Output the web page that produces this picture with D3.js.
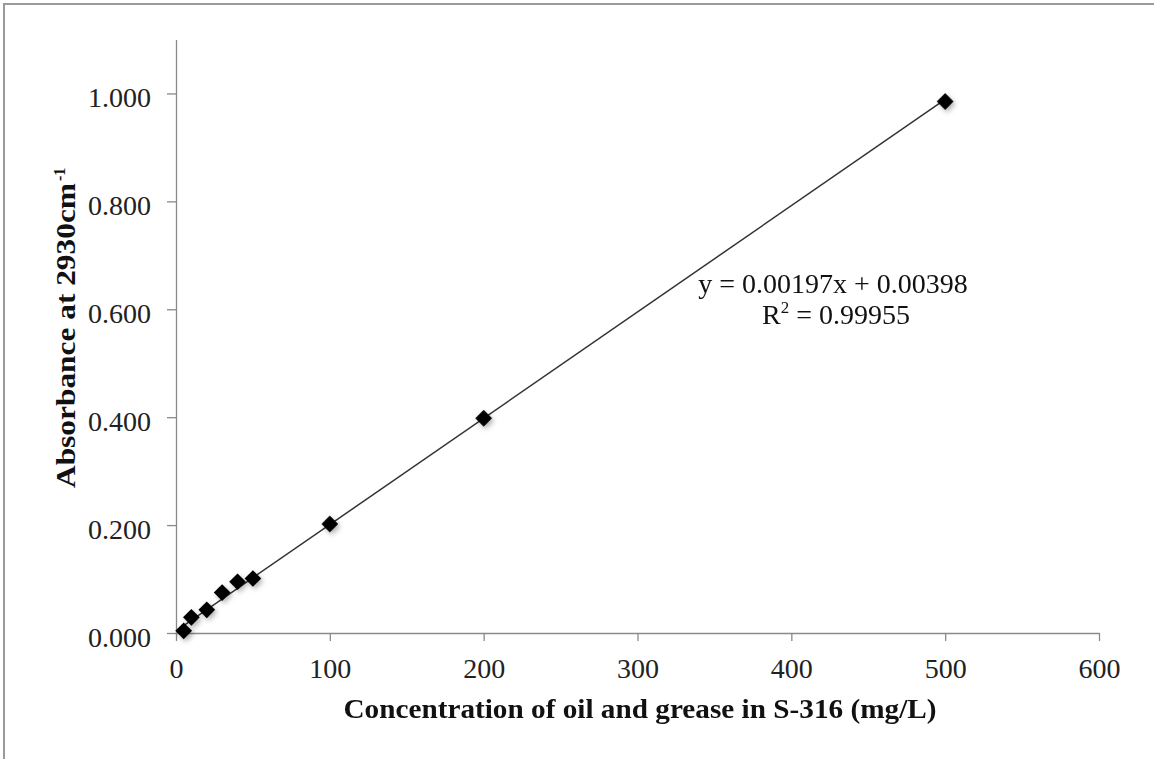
<!DOCTYPE html>
<html>
<head>
<meta charset="utf-8">
<script src="https://cdn.jsdelivr.net/npm/d3@7"></script>
<style>
  html, body { margin: 0; padding: 0; background: #fff; }
  svg { display: block; }
  text { font-family: "Liberation Serif", "Times New Roman", serif; }
</style>
</head>
<body>
<svg id="chart" width="1154" height="759"></svg>
<script>
// Calibration standards: oil and grease concentration vs. absorbance
const concentration = [5, 10, 20, 30, 40, 50, 100, 200, 500];
const absorbance = [0.004, 0.029, 0.043, 0.075, 0.095, 0.101, 0.202, 0.398, 0.985];

// Linear least-squares fit reported on the chart
const slope = 0.00197;
const intercept = 0.00398;
const rSquared = 0.99955;

const xTicks = [0, 100, 200, 300, 400, 500, 600];
const yTicks = [0, 0.2, 0.4, 0.6, 0.8, 1.0];
const xDomain = [0, 600];
const yDomain = [0, 1.1];

const xTitle = "Concentration of oil and grease in S-316 (mg/L)";
const yTitle = "Absorbance at 2930cm";
const yTitleSup = "-1";

const svg = d3.select("#chart");
const W = 1154, H = 759;

// Outer frame
svg.append("rect")
  .attr("x", 4).attr("y", 4)
  .attr("width", W + 10).attr("height", H + 10)
  .attr("fill", "none").attr("stroke", "#9a9a9a").attr("stroke-width", 2);

const x = d3.scaleLinear().domain(xDomain).range([176, 1099]);
const y = d3.scaleLinear().domain(yDomain).range([633, 39.5]);

// Drop shadow for the markers
const defs = svg.append("defs");
const f = defs.append("filter").attr("id", "shadow")
  .attr("x", "-60%").attr("y", "-60%").attr("width", "220%").attr("height", "220%");
f.append("feDropShadow")
  .attr("dx", 2).attr("dy", 2.5).attr("stdDeviation", 2.5)
  .attr("flood-color", "#000").attr("flood-opacity", 0.3);

const axisColor = "#8a8a8a";
const labelColor = "#222";

// X axis
const gx = svg.append("g").attr("transform", `translate(0,${y(0)})`)
  .call(d3.axisBottom(x).tickValues(xTicks).tickSize(8).tickSizeOuter(0).tickFormat(d3.format("d")));
gx.select(".domain").attr("stroke", axisColor).attr("stroke-width", 1.3);
gx.selectAll(".tick line").attr("stroke", axisColor).attr("stroke-width", 1.3);
gx.selectAll(".tick text")
  .attr("y", 45).attr("dy", 0)
  .attr("fill", labelColor)
  .style("font-size", "28px");

// Y axis
const gy = svg.append("g").attr("transform", `translate(${x(0)},0)`)
  .call(d3.axisLeft(y).tickValues(yTicks).tickSize(9).tickSizeOuter(0).tickFormat(d3.format(".3f")));
gy.select(".domain").attr("stroke", axisColor).attr("stroke-width", 1.3);
gy.selectAll(".tick line").attr("stroke", axisColor).attr("stroke-width", 1.3);
gy.selectAll(".tick text")
  .attr("x", -25).attr("dy", 13)
  .attr("fill", labelColor)
  .style("font-size", "28px");

// Trend line across the data range
const fitX = d3.extent(concentration);
svg.append("line")
  .attr("x1", x(fitX[0])).attr("y1", y(slope * fitX[0] + intercept))
  .attr("x2", x(fitX[1])).attr("y2", y(slope * fitX[1] + intercept))
  .attr("stroke", "#333").attr("stroke-width", 1.5);

// Diamond markers
const diamond = d3.symbol().type(d3.symbolSquare).size(140);
svg.append("g").attr("filter", "url(#shadow)")
  .selectAll("path")
  .data(concentration.map((c, i) => [c, absorbance[i]]))
  .join("path")
  .attr("d", diamond)
  .attr("transform", d => `translate(${x(d[0])},${y(d[1])}) rotate(45)`)
  .attr("fill", "#000");

// Regression equation
const eq = svg.append("g").style("font-size", "28px").attr("fill", "#111");
eq.append("text")
  .attr("x", 833).attr("y", 293).attr("text-anchor", "middle")
  .text(`y = ${slope.toFixed(5)}x + ${intercept.toFixed(5)}`);
const r2 = eq.append("text")
  .attr("x", 836).attr("y", 324).attr("text-anchor", "middle");
r2.append("tspan").text("R");
r2.append("tspan").attr("dy", -11).style("font-size", "17px").text("2");
r2.append("tspan").attr("dy", 11).text(` = ${rSquared.toFixed(5)}`);

// Axis titles
svg.append("text")
  .attr("x", 640).attr("y", 718).attr("text-anchor", "middle")
  .attr("textLength", 593).attr("lengthAdjust", "spacingAndGlyphs")
  .style("font-size", "28px").style("font-weight", "bold").attr("fill", "#111")
  .text(xTitle);

const yt = svg.append("g").attr("transform", "translate(75,488) rotate(-90)");
yt.append("text")
  .attr("x", 0).attr("y", 0)
  .attr("textLength", 305).attr("lengthAdjust", "spacingAndGlyphs")
  .style("font-size", "28px").style("font-weight", "bold").attr("fill", "#111")
  .text(yTitle);
yt.append("text")
  .attr("x", 307).attr("y", -10)
  .style("font-size", "16px").style("font-weight", "bold").attr("fill", "#111")
  .text(yTitleSup);
</script>
</body>
</html>
